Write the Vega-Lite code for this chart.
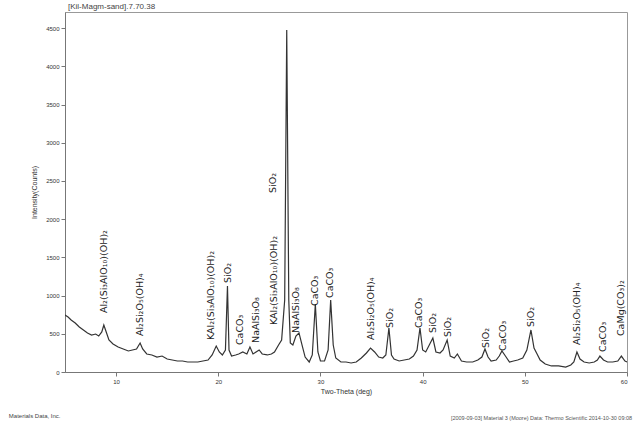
{
  "$schema": "https://vega.github.io/schema/vega-lite/v6.json",
  "autosize": {"type": "none"},
  "width": 562,
  "height": 360,
  "padding": {"left": 65, "top": 12, "right": 13, "bottom": 50},
  "background": "white",
  "title": {"text": "[Kil-Magm-sand].7.70.38", "anchor": "start", "frame": "group", "fontSize": 8, "fontWeight": "normal", "font": "Liberation Sans", "color": "#444", "offset": 1, "dx": 3},
  "config": {
    "view": {"stroke": "#999", "strokeWidth": 1},
    "axis": {"domainColor": "#777", "tickColor": "#777", "labelColor": "#333", "labelFontSize": 6, "titleFontSize": 7, "grid": false, "labelFont": "Liberation Sans", "titleFont": "Liberation Sans", "titleFontWeight": "normal", "titleColor": "#333", "tickSize": 4, "labelOverlap": false}
  },
  "datasets": {
    "pattern": [
      {"t":5.0,"I":746},{"t":5.3,"I":720},{"t":5.6,"I":681},{"t":6.0,"I":641},{"t":6.4,"I":589},{"t":6.8,"I":550},{"t":7.2,"I":511},{"t":7.6,"I":484},{"t":8.0,"I":497},{"t":8.3,"I":471},{"t":8.6,"I":524},{"t":8.8,"I":615},{"t":9.0,"I":537},{"t":9.3,"I":419},{"t":9.7,"I":367},{"t":10.2,"I":327},{"t":10.7,"I":301},{"t":11.2,"I":275},{"t":11.6,"I":288},{"t":12.0,"I":301},{"t":12.35,"I":380},{"t":12.6,"I":301},{"t":13.0,"I":236},{"t":13.5,"I":223},{"t":14.0,"I":196},{"t":14.5,"I":209},{"t":15.0,"I":170},{"t":15.5,"I":157},{"t":16.0,"I":144},{"t":16.5,"I":144},{"t":17.0,"I":131},{"t":17.5,"I":131},{"t":18.0,"I":131},{"t":18.5,"I":144},{"t":19.0,"I":157},{"t":19.4,"I":223},{"t":19.8,"I":340},{"t":20.1,"I":262},{"t":20.4,"I":223},{"t":20.7,"I":288},{"t":20.9,"I":1126},{"t":21.05,"I":288},{"t":21.3,"I":209},{"t":21.7,"I":223},{"t":22.0,"I":236},{"t":22.4,"I":262},{"t":22.8,"I":236},{"t":23.1,"I":327},{"t":23.4,"I":236},{"t":23.7,"I":262},{"t":24.0,"I":288},{"t":24.3,"I":236},{"t":24.8,"I":223},{"t":25.2,"I":236},{"t":25.5,"I":262},{"t":25.9,"I":353},{"t":26.2,"I":419},{"t":26.5,"I":942},{"t":26.7,"I":4477},{"t":26.9,"I":942},{"t":27.05,"I":380},{"t":27.3,"I":353},{"t":27.6,"I":471},{"t":27.9,"I":511},{"t":28.2,"I":353},{"t":28.5,"I":196},{"t":28.9,"I":131},{"t":29.2,"I":223},{"t":29.5,"I":890},{"t":29.75,"I":262},{"t":30.0,"I":144},{"t":30.4,"I":144},{"t":30.75,"I":288},{"t":31.0,"I":942},{"t":31.25,"I":353},{"t":31.5,"I":183},{"t":32.0,"I":131},{"t":32.5,"I":131},{"t":33.0,"I":118},{"t":33.5,"I":131},{"t":34.0,"I":183},{"t":34.5,"I":249},{"t":34.9,"I":314},{"t":35.3,"I":262},{"t":35.7,"I":196},{"t":36.1,"I":183},{"t":36.4,"I":223},{"t":36.7,"I":576},{"t":36.95,"I":223},{"t":37.2,"I":170},{"t":37.7,"I":144},{"t":38.2,"I":157},{"t":38.7,"I":170},{"t":39.1,"I":209},{"t":39.45,"I":288},{"t":39.74,"I":576},{"t":40.0,"I":288},{"t":40.3,"I":262},{"t":40.7,"I":367},{"t":41.0,"I":445},{"t":41.3,"I":262},{"t":41.7,"I":249},{"t":42.0,"I":288},{"t":42.4,"I":419},{"t":42.7,"I":209},{"t":43.1,"I":183},{"t":43.4,"I":236},{"t":43.8,"I":144},{"t":44.3,"I":131},{"t":44.9,"I":131},{"t":45.4,"I":157},{"t":45.8,"I":196},{"t":46.1,"I":301},{"t":46.4,"I":196},{"t":46.7,"I":144},{"t":47.2,"I":157},{"t":47.5,"I":209},{"t":47.76,"I":275},{"t":48.1,"I":209},{"t":48.5,"I":131},{"t":48.9,"I":144},{"t":49.3,"I":157},{"t":49.8,"I":183},{"t":50.2,"I":288},{"t":50.6,"I":550},{"t":50.9,"I":314},{"t":51.2,"I":236},{"t":51.5,"I":157},{"t":52.0,"I":105},{"t":52.6,"I":79},{"t":53.3,"I":79},{"t":54.0,"I":65},{"t":54.5,"I":92},{"t":54.8,"I":131},{"t":55.1,"I":262},{"t":55.4,"I":170},{"t":55.8,"I":131},{"t":56.3,"I":118},{"t":56.8,"I":131},{"t":57.1,"I":157},{"t":57.35,"I":209},{"t":57.7,"I":157},{"t":58.1,"I":131},{"t":58.6,"I":131},{"t":59.1,"I":144},{"t":59.45,"I":209},{"t":59.8,"I":144},{"t":60.0,"I":131}
    ],
    "phases": [
      {"t":8.8,"I":772,"label":"Al₂(Si₃AlO₁₀)(OH)₂"},
      {"t":12.35,"I":471,"label":"Al₂Si₂O₅(OH)₄"},
      {"t":19.3,"I":419,"label":"KAl₂(Si₃AlO₁₀)(OH)₂"},
      {"t":20.95,"I":1165,"label":"SiO₂"},
      {"t":22.1,"I":353,"label":"CaCO₃"},
      {"t":23.7,"I":380,"label":"NaAlSi₃O₈"},
      {"t":25.45,"I":615,"label":"KAl₂(Si₃AlO₁₀)(OH)₂"},
      {"t":25.4,"I":2343,"label":"SiO₂"},
      {"t":27.6,"I":511,"label":"NaAlSi₃O₈"},
      {"t":29.45,"I":864,"label":"CaCO₃"},
      {"t":30.93,"I":969,"label":"CaCO₃"},
      {"t":34.94,"I":419,"label":"Al₂Si₂O₅(OH)₄"},
      {"t":36.8,"I":576,"label":"SiO₂"},
      {"t":39.65,"I":576,"label":"CaCO₃"},
      {"t":41.0,"I":511,"label":"SiO₂"},
      {"t":42.5,"I":458,"label":"SiO₂"},
      {"t":46.2,"I":314,"label":"SiO₂"},
      {"t":47.86,"I":275,"label":"CaCO₃"},
      {"t":50.6,"I":589,"label":"SiO₂"},
      {"t":55.1,"I":353,"label":"Al₂Si₂O₅(OH)₄"},
      {"t":57.64,"I":262,"label":"CaCO₃"},
      {"t":59.4,"I":471,"label":"CaMg(CO₃)₂"}
    ],
    "notes": [
      {"t":-0.5,"I":-576,"pos":"left","note":"Materials Data, Inc."},
      {"t":60.5,"I":-600,"pos":"right","note":"[2009-09-03] Material 3 (Moore) Data: Thermo Scientific 2014-10-30 09:08"}
    ]
  },
  "encoding": {
    "x": {"field": "t", "type": "quantitative", "scale": {"domain": [5, 60], "nice": false}, "axis": {"values": [10, 20, 30, 40, 50, 60], "title": "Two-Theta (deg)", "titlePadding": 3, "labelPadding": 2}},
    "y": {"field": "I", "type": "quantitative", "scale": {"domain": [0, 4712], "nice": false}, "axis": {"values": [0, 500, 1000, 1500, 2000, 2500, 3000, 3500, 4000, 4500], "format": "d", "labelOverlap": false, "title": "Intensity(Counts)", "titlePadding": 8, "labelPadding": 2}}
  },
  "layer": [
    {
      "data": {"name": "pattern"},
      "mark": {"type": "line", "color": "#333", "strokeWidth": 1.2, "clip": true}
    },
    {
      "data": {"name": "phases"},
      "mark": {"type": "text", "angle": 270, "align": "left", "baseline": "middle", "fontSize": 9.5, "font": "DejaVu Sans", "color": "#222"},
      "encoding": {"text": {"field": "label"}}
    },
    {
      "data": {"name": "notes"},
      "transform": [{"filter": "datum.pos == 'left'"}],
      "mark": {"type": "text", "align": "left", "baseline": "middle", "fontSize": 6, "font": "Liberation Sans", "color": "#444", "clip": false},
      "encoding": {"text": {"field": "note"}}
    },
    {
      "data": {"name": "notes"},
      "transform": [{"filter": "datum.pos == 'right'"}],
      "mark": {"type": "text", "align": "right", "baseline": "middle", "fontSize": 5.5, "font": "Liberation Sans", "color": "#555", "clip": false},
      "encoding": {"text": {"field": "note"}}
    }
  ]
}
